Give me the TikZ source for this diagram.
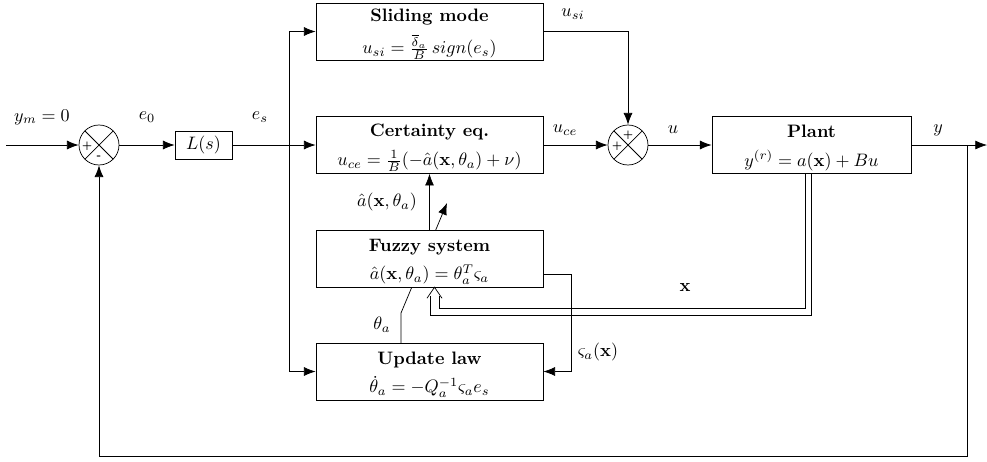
\documentclass[tikz,border=0pt]{standalone}
\usepackage{amsmath}
\usetikzlibrary{arrows.meta,backgrounds}
\newcommand{\blktitle}[1]{\rule{0pt}{10.3pt}\textbf{#1}}
\begin{document}
\begin{tikzpicture}[x=0.555pt,y=-0.555pt,>={Latex[length=6.5pt,width=5pt]},
  blk/.style={draw,fill=white,align=center,minimum width=126pt,minimum height=31.5pt,inner xsep=1pt,inner ysep=0pt},
  sumnode/.style={draw,circle,minimum size=22.2pt,inner sep=0pt,
    path picture={\draw (path picture bounding box.north west)--(path picture bounding box.south east)
      (path picture bounding box.north east)--(path picture bounding box.south west);}},
  sgn/.style={font=\tiny\bfseries,inner sep=0pt}]
\useasboundingbox (0,0) rectangle (987,461);
\node[sumnode] (sum1) at (99,145) {};
\node[sgn] (s1p) at (87,146) {+};
\node[sgn] (s1m) at (99,157) {-};
\node[draw,minimum width=31.6pt,minimum height=15.5pt,inner sep=1pt] (ls) at (203.5,145) {$L(s)$};
\node[blk] (slid) at (429.5,31.5) {\blktitle{Sliding mode}\\[4pt] $u_{si}=\frac{\overline{\delta}_a}{B}\,sign(e_s)$};
\node[blk] (cert) at (429.5,145) {\blktitle{Certainty eq.}\\[4pt] $u_{ce}=\frac{1}{B}(-\hat{a}(\mathbf{x},\theta_a)+\nu)$};
\node[blk] (fuzz) at (429.5,258.5) {\blktitle{Fuzzy system}\\[4pt] $\hat{a}(\mathbf{x},\theta_a)=\theta_a^T\varsigma_a$};
\node[blk] (upd) at (429.5,371.5) {\blktitle{Update law}\\[4pt] $\dot{\theta}_a=-Q_a^{-1}\varsigma_a e_s$};
\node[sumnode] (sum2) at (628,145) {};
\node[sgn] (s2t) at (628,135) {+};
\node[sgn] (s2l) at (617,146) {+};
\node[blk,minimum width=110.5pt] (plant) at (811.5,145) {\blktitle{Plant}\\[4pt] $y^{(r)}=a(\mathbf{x})+Bu$};
\coordinate (in) at (6,145);
\coordinate (br) at (289,145);
\coordinate (out) at (987,145);
\coordinate (fb) at (967,145);
\coordinate (fbd) at (967,456);
\coordinate (sg) at (571,274);
\coordinate (thk) at (401,313);
\coordinate (adtip) at (447,203);
\coordinate (xdi) at (805,308);
\coordinate (xci) at (439,308);
\coordinate (xdo) at (811,315);
\coordinate (xco) at (430,315);
\coordinate (xtip) at (434.5,287);
\draw[->] (in) -- (sum1.west);
\draw[->] (sum1.east) -- (ls.west);
\draw[->] (ls.east) -- (cert.west);
\draw[->] (br) |- (slid.west);
\draw[->] (br) |- (upd.west);
\draw[->] (slid.east) -| (sum2.north);
\draw[->] (cert.east) -- (sum2.west);
\draw[->] (sum2.east) -- (plant.west);
\draw[->] (plant.east) -- (out);
\draw[->] (fb) -- (fbd) -| (sum1.south);
\draw[->] (fuzz.north) -- (cert.south);
\draw[->] (fuzz.east |- sg) -- (sg) |- (upd.east);
\draw (plant.south -| xdi) -- (xdi) -- (xci) -- ++(0,-12);
\draw (plant.south -| xdo) -- (xdo) -- (xco) -- ++(0,-19);
\draw (fuzz.south -| xtip) ++(-7.5,11) -- (fuzz.south -| xtip) -- ++(7.5,11);
\begin{pgfonlayer}{background}
\draw[->] (upd.north -| thk) -- (thk) -- (adtip);
\end{pgfonlayer}
\node (lym) at (42,117) {$y_m=0$};
\node (le0) at (147,117) {$e_0$};
\node (les) at (260,117) {$e_s$};
\node (lusi) at (573,14) {$u_{si}$};
\node (luce) at (565,130) {$u_{ce}$};
\node (lu) at (673,130) {$u$};
\node (ly) at (938,130) {$y$};
\node (lah) at (387,202) {$\hat{a}(\mathbf{x},\theta_a)$};
\node (lth) at (382,325) {$\theta_a$};
\node (lsg) at (598,352) {$\varsigma_a(\mathbf{x})$};
\node (lx) at (685,287) {$\mathbf{x}$};
\end{tikzpicture}
\end{document}
